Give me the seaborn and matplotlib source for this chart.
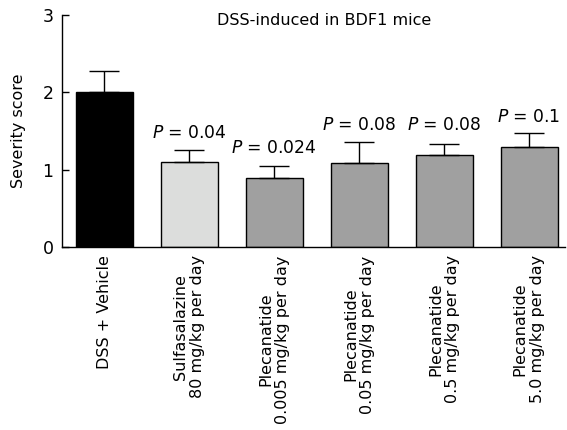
import numpy as np
import pandas as pd
import seaborn as sns
import matplotlib.pyplot as plt

# valeurs
groups = ['DSS + Vehicle',
          'Sulfasalazine\n80 mg/kg per day',
          'Plecanatide\n0.005 mg/kg per day',
          'Plecanatide\n0.05 mg/kg per day',
          'Plecanatide\n0.5 mg/kg per day',
          'Plecanatide\n5.0 mg/kg per day']
scores = [2.0, 1.10, 0.89, 1.09, 1.19, 1.29]
sem = [0.28, 0.16, 0.16, 0.27, 0.14, 0.18]
p_labels = ['', '$P$ = 0.04', '$P$ = 0.024', '$P$ = 0.08', '$P$ = 0.08', '$P$ = 0.1']
p_label_y = [0, 1.41, 1.22, 1.51, 1.51, 1.62]
colors = ['#000000', '#dcdddc', '#a0a0a0', '#a0a0a0', '#a0a0a0', '#a0a0a0']

df = pd.DataFrame({'group': groups, 'score': scores})

sns.set_style('ticks')
plt.rcParams['font.family'] = ['DejaVu Sans']
plt.rcParams['text.color'] = 'black'
plt.rcParams['axes.labelcolor'] = 'black'
plt.rcParams['xtick.color'] = 'black'
plt.rcParams['ytick.color'] = 'black'

fig = plt.figure(figsize=(5.67, 4.30), dpi=100)
ax = fig.add_axes([0.109, 0.4256, 0.887, 0.539])

sns.barplot(x='group', y='score', hue='group', data=df, palette=colors,
            width=0.67, edgecolor='black', linewidth=1.0, legend=False, ax=ax)

x = np.arange(len(groups))
ax.errorbar(x, scores, yerr=[np.zeros(len(sem)), sem], fmt='none',
            ecolor='black', elinewidth=1.0, capsize=10.8, capthick=1.0)

for i, lab in enumerate(p_labels):
    if lab:
        ax.text(i, p_label_y[i], lab, ha='center', va='baseline', fontsize=12.3)

ax.text(2.59, 3.03, 'DSS-induced in BDF1 mice', ha='center', va='top',
        fontsize=11.5)

ax.set_xlim(-0.5, 5.42)
ax.set_ylim(0, 3)
ax.set_yticks([0, 1, 2, 3])
ax.set_xlabel('')
ax.set_ylabel('Severity score', fontsize=11.5, labelpad=12)
ax.tick_params(axis='x', length=0, labelsize=11.5, rotation=90, pad=6)
ax.tick_params(axis='y', direction='in', length=5, labelsize=12.5, width=1,
               pad=6)
for s in ['top', 'right']:
    ax.spines[s].set_visible(False)
for s in ['left', 'bottom']:
    ax.spines[s].set_color('black')
    ax.spines[s].set_linewidth(1)

plt.savefig('out.png', dpi=100)
